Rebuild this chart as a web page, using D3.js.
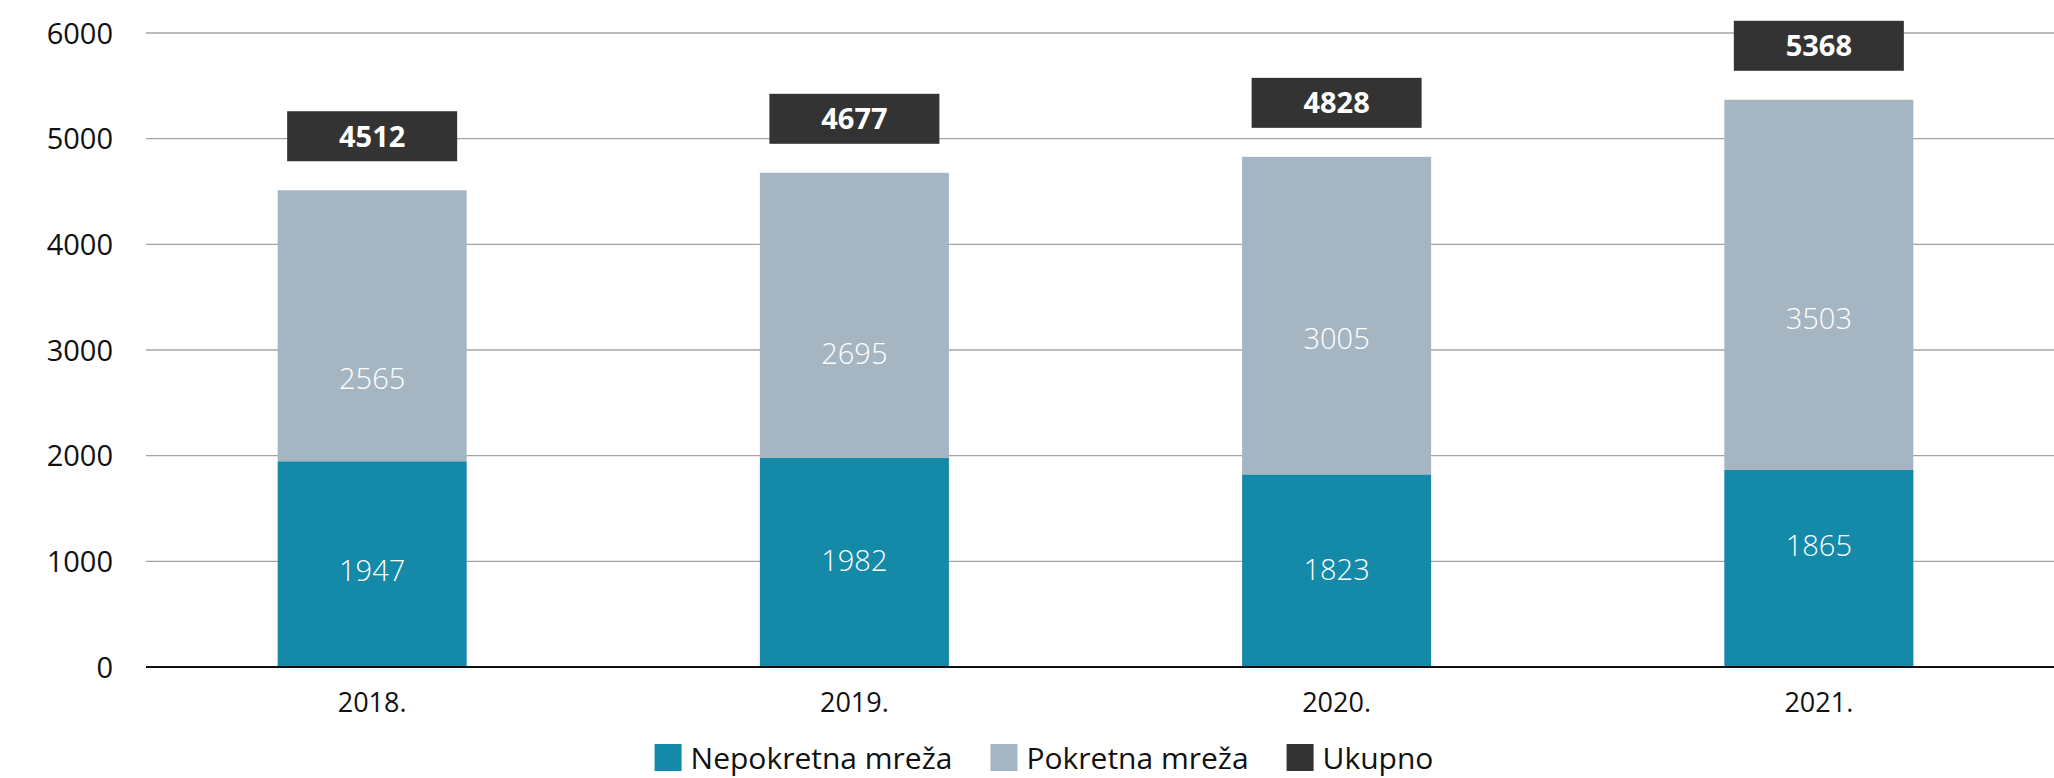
<!DOCTYPE html>
<html>
<head>
<meta charset="utf-8">
<script src="https://cdn.jsdelivr.net/npm/d3@7"></script>
<style>
  html, body { margin: 0; padding: 0; background: #ffffff; }
  svg { display: block; font-family: "Open Sans", "Noto Sans", sans-serif; }
</style>
</head>
<body>
<svg id="chart" width="2054" height="778"></svg>
<script>
// ---- data ----
const years = ["2018.", "2019.", "2020.", "2021."];
const nepokretna = [1947, 1982, 1823, 1865];
const pokretna = [2565, 2695, 3005, 3503];
const ukupno = [4512, 4677, 4828, 5368];
const yTicks = [0, 1000, 2000, 3000, 4000, 5000, 6000];
const seriesNames = ["Nepokretna mreža", "Pokretna mreža", "Ukupno"];
// value level (in data units) at which each inside label sits
const nepokretnaLabelAt = [909, 1007, 919, 1146];
const pokretnaLabelAt = [2731, 2967, 3106, 3302];

// ---- styles ----
const colors = { nep: "#1589a8", pok: "#a6b5c2", uk: "#333333" };

const svg = d3.select("#chart");
const W = 2054, H = 778;

const x = d3.scaleBand().domain(years).range([146, 2045]).paddingInner(0.608).paddingOuter(0.273);
const y = d3.scaleLinear().domain([0, 6000]).range([667, 33]);

// gridlines
svg.append("g").selectAll("line").data(yTicks.filter(d => d > 0)).join("line")
  .attr("x1", 146).attr("x2", W)
  .attr("y1", d => y(d)).attr("y2", d => y(d))
  .attr("stroke", "#a3a3a3").attr("stroke-width", 1.4);

// y tick labels
svg.append("g").selectAll("text").data(yTicks).join("text")
  .attr("x", 113).attr("y", d => y(d) + 10.5)
  .attr("text-anchor", "end")
  .attr("font-size", 29).attr("fill", "#111")
  .text(d => d);

const rows = years.map((yr, i) => ({ yr, n: nepokretna[i], p: pokretna[i], t: ukupno[i], nl: nepokretnaLabelAt[i], pl: pokretnaLabelAt[i] }));

// bars: nepokretna
svg.append("g").selectAll("rect").data(rows).join("rect")
  .attr("x", d => x(d.yr)).attr("width", x.bandwidth())
  .attr("y", d => y(d.n)).attr("height", d => y(0) - y(d.n))
  .attr("fill", colors.nep);
// bars: pokretna stacked
svg.append("g").selectAll("rect").data(rows).join("rect")
  .attr("x", d => x(d.yr)).attr("width", x.bandwidth())
  .attr("y", d => y(d.n + d.p)).attr("height", d => y(d.n) - y(d.n + d.p))
  .attr("fill", colors.pok);

// baseline
svg.append("line").attr("x1", 146).attr("x2", W).attr("y1", y(0)).attr("y2", y(0))
  .attr("stroke", "#111").attr("stroke-width", 2);

// inside labels
svg.append("g").selectAll("text").data(rows).join("text")
  .attr("x", d => x(d.yr) + x.bandwidth() / 2).attr("y", d => y(d.nl) + 10.5)
  .attr("text-anchor", "middle").attr("font-size", 29).attr("font-weight", 300)
  .attr("fill", "#ffffff").text(d => d.n);
svg.append("g").selectAll("text").data(rows).join("text")
  .attr("x", d => x(d.yr) + x.bandwidth() / 2).attr("y", d => y(d.pl) + 10.5)
  .attr("text-anchor", "middle").attr("font-size", 29).attr("font-weight", 300)
  .attr("fill", "#ffffff").text(d => d.p);

// total boxes
const boxW = 170, boxH = 50, gap = 29;
const tg = svg.append("g").selectAll("g").data(rows).join("g");
tg.append("rect")
  .attr("x", d => x(d.yr) + x.bandwidth() / 2 - boxW / 2)
  .attr("y", d => y(d.t) - gap - boxH)
  .attr("width", boxW).attr("height", boxH)
  .attr("fill", colors.uk);
tg.append("text")
  .attr("x", d => x(d.yr) + x.bandwidth() / 2)
  .attr("y", d => y(d.t) - gap - boxH / 2 + 10.5)
  .attr("text-anchor", "middle").attr("font-size", 29).attr("font-weight", 700)
  .attr("fill", "#ffffff").text(d => d.t);

// x labels
svg.append("g").selectAll("text").data(years).join("text")
  .attr("x", d => x(d) + x.bandwidth() / 2).attr("y", 711.5)
  .attr("text-anchor", "middle").attr("font-size", 27).attr("fill", "#111")
  .text(d => d);

// legend
const legendColors = [colors.nep, colors.pok, colors.uk];
const lg = svg.append("g");
let cx = 0;
seriesNames.forEach((name, i) => {
  const item = lg.append("g").attr("transform", `translate(${cx},0)`);
  item.append("rect").attr("x", 0).attr("y", 744).attr("width", 27).attr("height", 27).attr("fill", legendColors[i]);
  const t = item.append("text").attr("x", 36).attr("y", 769).attr("font-size", 30).attr("fill", "#111").text(name);
  cx += 36 + t.node().getComputedTextLength() + 38;
});
const totalW = cx - 38;
lg.attr("transform", `translate(${1044 - totalW / 2},0)`);
</script>
</body>
</html>
